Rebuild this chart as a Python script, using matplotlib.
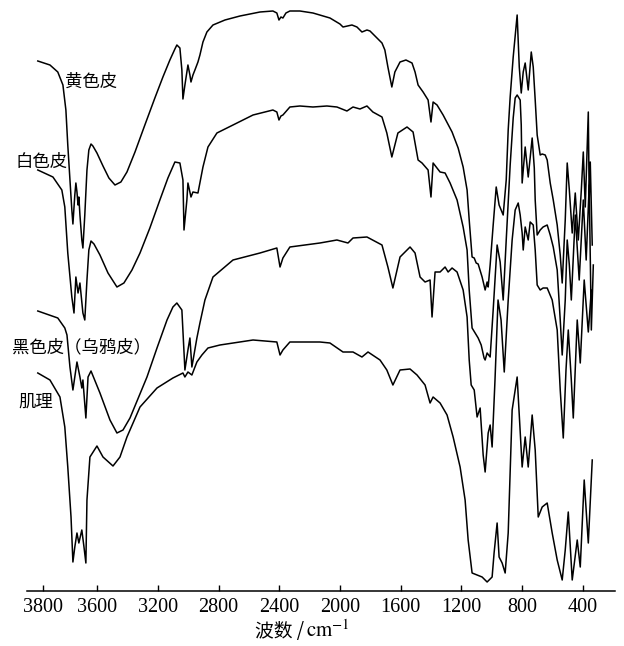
import numpy as np
import matplotlib
matplotlib.use("Agg")
import matplotlib.pyplot as plt
from matplotlib.ticker import FixedLocator

plt.rcParams["font.family"] = ["Liberation Serif", "DejaVu Serif"]
plt.rcParams["mathtext.fontset"] = "stix"

# FTIR spectra, wavenumber (cm-1) vs transmittance (a.u., curves offset)
yellow_w = [3820, 3775, 3746, 3727, 3716, 3709, 3701, 3694, 3690, 3683, 3679, 3675, 3671, 3668, 3664, 3657,
            3653, 3646, 3638, 3631, 3623, 3616, 3601, 3562, 3523, 3483, 3444, 3404, 3351, 3286, 3220, 3167,
            3121, 3088, 3075, 3055,
            3042, 3035, 3022, 3002, 2989, 2982, 2969, 2956, 2936, 2923, 2903, 2877, 2837, 2758, 2659, 2527,
            2442, 2416, 2402, 2389, 2376, 2356, 2330, 2264, 2178, 2066, 2000, 1980, 1921, 1888, 1855, 1822,
            1802, 1756, 1723, 1704, 1684, 1658, 1638, 1604, 1565, 1525, 1505, 1485, 1452, 1419, 1400, 1386,
            1360, 1320, 1261, 1221, 1188, 1162, 1148, 1129, 1115, 1102, 1089, 1063, 1043, 1030, 1023, 1010,
            990, 970, 951, 924, 904, 891, 878, 858, 832, 818, 805, 792, 779, 759, 739, 726, 713, 700, 680,
            667, 647, 634, 614, 594, 568, 548, 535, 515, 502, 488, 469, 449, 429, 409, 396, 383, 363, 357,
            350, 337]
yellow_t = [530, 526, 519, 506, 481, 446, 411, 381, 367, 396, 408, 399, 386, 394, 376, 351,
            343, 376, 421, 441, 447, 445, 438, 425, 413, 406, 409, 419, 439, 466, 493, 514,
            531, 542, 546, 543,
            521, 492, 506, 526, 516, 509, 516, 521, 529, 536, 549, 559, 566, 571, 575, 579,
            580, 578, 571, 574, 573, 578, 580, 580, 578, 573, 567, 564, 566, 564, 559, 561,
            560, 553, 548, 541, 524, 504, 519, 529, 531, 528, 519, 506, 499, 491, 469, 489,
            486, 476, 459, 443, 424, 401, 371, 334, 333, 328, 327, 314, 301, 309, 304, 326,
            366, 404, 386, 376, 411, 461, 494, 534, 576, 524, 498, 519, 528, 501, 539, 524, 491, 456, 436,
            437, 436, 431, 408, 391, 366, 336, 308, 371, 428, 401, 358, 398, 351, 401, 439, 384, 479, 391,
            429, 346]

white_w = [3820, 3764, 3731, 3720, 3709, 3694, 3686, 3679, 3671, 3664, 3653, 3646, 3638, 3631, 3623, 3612,
           3582, 3529, 3470, 3424, 3371, 3318, 3253, 3187, 3134, 3088, 3055, 3035, 3028, 3009, 3002, 2982,
           2969, 2936, 2903, 2870,
           2811, 2705, 2573, 2442, 2416, 2402, 2389, 2376, 2330, 2264, 2178, 2086, 2020, 1954, 1914, 1868,
           1822, 1783, 1723, 1691, 1658, 1618, 1558, 1518, 1485, 1459, 1419, 1400, 1386, 1340, 1307, 1274,
           1228, 1188, 1162, 1148, 1129, 1109, 1089, 1069, 1050, 1043, 1030, 1010, 990, 964, 944, 924, 904,
           878, 858, 845, 832, 812, 805, 799, 779, 759, 733, 719, 713, 700, 680, 661, 634, 614, 594, 568,
           548, 535, 515, 502, 488, 475, 449, 423, 396, 377, 357, 343, 330]
white_t = [421, 414, 401, 384, 338, 294, 278, 314, 298, 308, 278, 271, 311, 341, 350, 347,
           336, 318, 304, 308, 321, 338, 363, 391, 413, 429, 428, 411, 361, 391, 408, 394,
           399, 398, 424, 444,
           458, 466, 476, 481, 479, 471, 475, 476, 484, 485, 484, 485, 484, 480, 484, 482,
           485, 479, 474, 458, 434, 458, 464, 459, 431, 428, 421, 394, 428, 419, 418, 408,
           391, 364, 341, 301, 263, 258, 253, 246, 233, 231, 238, 234, 281, 346, 329, 291, 351,
           426, 473, 493, 496, 491, 466, 408, 444, 414, 453, 423, 391, 356, 361, 364, 366, 356, 344, 321,
           271, 236, 291, 351, 326, 291, 376, 311, 391, 331, 406, 261, 326]

black_w = [3820, 3746, 3720, 3712, 3701, 3690, 3675, 3664, 3657, 3653, 3642, 3634, 3623, 3582, 3516, 3470,
           3430, 3384, 3272, 3206, 3140, 3101, 3075, 3042, 3022, 3002, 2989, 2976, 2943, 2923, 2890, 2837,
           2705, 2527, 2416,
           2395, 2376, 2330, 2132, 2020, 1947, 1914, 1822, 1723, 1684, 1651, 1604, 1538, 1505, 1472, 1439,
           1406, 1393, 1373, 1340, 1307, 1287, 1261, 1228, 1188, 1162, 1148, 1135, 1115, 1096, 1076, 1056,
           1043, 1023, 1010, 997, 978, 958, 938, 917, 891, 865, 845, 825, 812, 799, 792, 779, 759, 746, 726,
           713, 700, 680, 661, 634, 601, 568, 548, 528, 510, 495, 475, 462, 436, 416, 390, 363, 343]
black_t = [280, 273, 263, 256, 224, 201, 229, 214, 203, 211, 173, 214, 220, 198, 171, 158,
           161, 173, 214, 243, 271, 284, 288, 281, 221, 241, 253, 224, 253, 268, 291, 314,
           331, 338, 343,
           324, 333, 344, 348, 351, 348, 353, 354, 346, 324, 303, 334, 344, 338, 314, 309,
           311, 274, 319, 319, 324, 319, 323, 319, 301, 274, 231, 206, 201, 174, 183, 136,
           119, 158, 166, 144, 211, 291, 271, 219, 291, 351, 381, 388, 376, 358, 341, 364, 351, 369, 366,
           341, 306, 301, 303, 303, 291, 261, 201, 153, 221, 261, 211, 173, 271, 228, 311, 259, 301]

muscle_w = [3820, 3775, 3738, 3720, 3709, 3697, 3690, 3683, 3675, 3668, 3657, 3649, 3642, 3638, 3627, 3601,
            3562, 3496, 3450, 3404, 3318, 3206, 3101, 3035, 3022, 3002, 2976, 2943, 2910, 2870, 2791, 2573,
            2416, 2395, 2376, 2330, 2132, 2066, 1980, 1914, 1855, 1815, 1736, 1691, 1651, 1604, 1538, 1492,
            1439, 1406, 1386, 1340, 1294, 1254, 1208, 1175, 1155, 1129, 1096, 1063, 1030, 997, 984, 964, 951,
            931, 911, 891, 865, 832, 799, 779, 759, 733, 713, 693, 667, 634, 601, 568, 535, 515, 495, 469,
            436, 416, 390, 363, 337]
muscle_t = [218, 211, 194, 164, 124, 74, 29, 44, 58, 48, 61, 44, 28, 91, 134, 145,
            134, 125, 134, 154, 184, 203, 213, 218, 214, 219, 216, 229, 236, 243, 246, 251,
            249, 236, 241, 249, 249, 248, 239, 239, 234, 239, 231, 221, 206, 221, 222, 216,
            206, 188, 194, 188, 176, 154, 124, 91, 51, 18, 16, 14, 9, 14, 38, 68, 34,
            28, 18, 58, 181, 214, 124, 154, 124, 176, 141, 74, 84, 88, 58, 31, 11, 41, 79, 11,
            51, 24, 111, 48, 131]

tick_values = [3800, 3600, 3200, 2800, 2400, 2000, 1600, 1200, 800, 400]

curve_labels = ["黄色皮", "白色皮", "黑色皮（乌鸦皮）", "肌理"]
label_pos = [(65, 82), (16, 162), (12, 347), (18, 402)]  # pixel positions of the labels


# chart scale of the spectrometer printout: 200 cm-1 per 54 px above 3600, 400 per 60.7 px below
def fwd(w):
    return np.interp(w, [0, 3600, 4200], [-643.3, -97.3, 64.7])


def inv(q):
    return np.interp(q, [-643.3, -97.3, 64.7], [0, 3600, 4200])


W, H = 624, 646
fig = plt.figure(figsize=(W / 100, H / 100), dpi=100)
ax = fig.add_axes([27 / W, 55 / H, 588 / W, 591 / H])
ax.set_xscale("function", functions=(fwd, inv))

for w, t in [(yellow_w, yellow_t), (white_w, white_t), (black_w, black_t), (muscle_w, muscle_t)]:
    ax.plot(w, t, color="black", lw=1.1)

ax.set_xlim(3860, 187)
ax.set_ylim(0, 591)
ax.xaxis.set_major_locator(FixedLocator(tick_values))
ax.xaxis.set_minor_locator(FixedLocator([]))
ax.set_xticklabels([str(v) for v in tick_values])
ax.tick_params(axis="x", direction="in", length=4, width=1, labelsize=14.5, pad=5)
ax.set_yticks([])
for s in ["top", "left", "right"]:
    ax.spines[s].set_visible(False)
ax.spines["bottom"].set_linewidth(1.1)

for lab, (px, py) in zip(curve_labels, label_pos):
    fig.text(px / W, 1 - py / H, lab, ha="left", va="center", fontsize=12.5,
             family=["Noto Sans CJK SC", "DejaVu Sans"])

fig.text(255 / W, 1 - 631 / H, "波数 /", ha="left", va="center", fontsize=13.5,
         family=["Noto Sans CJK SC", "DejaVu Sans"])
fig.text(306 / W, 1 - 631 / H, r"$\mathrm{cm}^{-1}$", ha="left", va="center", fontsize=15)

fig.savefig("out.png", dpi=100)
